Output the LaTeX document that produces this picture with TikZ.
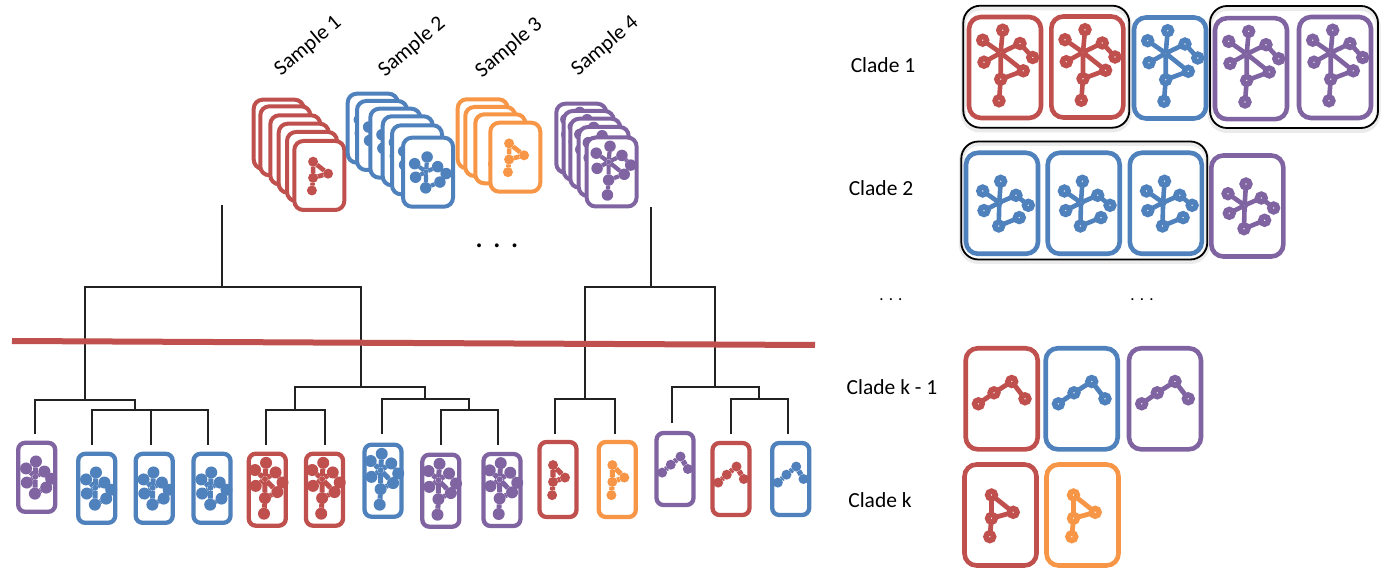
\documentclass[tikz,border=0pt]{standalone}
\usepackage{fontspec}
\setmainfont{Carlito}
\definecolor{cred}{HTML}{C0504D}
\definecolor{cblue}{HTML}{4F81BD}
\definecolor{cpurple}{HTML}{8064A2}
\definecolor{corange}{HTML}{F79646}
\definecolor{tree}{HTML}{222222}
\tikzset{
  x=1pt,y=-1pt,
  lab/.style={font=\fontsize{21.5}{24}\selectfont,inner sep=0pt,text=black},
  treeline/.style={draw=tree,line width=1.8pt},
  cutline/.style={draw=cred,line width=6pt},
  groupbox/.style={draw=black,line width=1.8pt,rounded corners=17pt,inner sep=0pt},
  groupshade/.style={draw=black!8,line width=5pt,rounded corners=17pt,inner sep=0pt},
  cardbase/.style={fill=white,inner sep=0pt,outer sep=0pt},
  biglook/.style={cardbase,line width=4.6pt,rounded corners=12pt,
    gn/.style={circle,draw=gcol,fill=white,line width=5.6pt,minimum size=7.6pt,inner sep=0pt,outer sep=0pt},
    gt/.style={circle,draw=gcol,fill=white,line width=5.6pt,minimum size=7.6pt,inner sep=0pt,outer sep=0pt},
    gh/.style={circle,draw=gcol,fill=white,line width=3pt,minimum size=4pt,inner sep=0pt,outer sep=0pt},
    ge/.style={draw=gcol,fill=none,line width=4.6pt},
    gl/.style={draw=gcol,fill=none,line width=4.8pt}},
  stacklook/.style={cardbase,line width=4pt,rounded corners=9pt,
    gn/.style={circle,fill=gcol,minimum size=11.5pt,inner sep=0pt,outer sep=0pt},
    gt/.style={circle,fill=gcol,minimum size=10pt,inner sep=0pt,outer sep=0pt},
    gh/.style={circle,fill=gcol,minimum size=5pt,inner sep=0pt,outer sep=0pt},
    ge/.style={draw=gcol,fill=none,line width=4.2pt},
    gl/.style={draw=gcol,fill=none,line width=4.6pt}},
  smalllook/.style={cardbase,line width=4.3pt,rounded corners=7pt,
    gn/.style={circle,fill=gcol,minimum size=12pt,inner sep=0pt,outer sep=0pt},
    gt/.style={circle,fill=gcol,minimum size=10pt,inner sep=0pt,outer sep=0pt},
    gh/.style={circle,fill=gcol,minimum size=6pt,inner sep=0pt,outer sep=0pt},
    ge/.style={draw=gcol,fill=none,line width=5pt},
    gl/.style={draw=gcol,fill=none,line width=5.2pt}},
  scalebiglook/.style={},
  scalestacklook/.style={xscale=.69,yscale=.69},
  scalesmalllook/.style={xscale=.55,yscale=.72},
}
\newcommand{\gfull}{%
  \node[gh] (h) at (-4.3,-14.7) {};
  \node[gn] (a) at (-2.3,-37.3) {};
  \node[gn] (b) at (-22.3,-27.3) {};
  \node[gn] (c) at (-21,-5.3) {};
  \node[gn] (d) at (15,-24) {};
  \node[gn] (e) at (27.7,-10) {};
  \node[gn] (f) at (18.3,3.3) {};
  \node[gn] (g) at (-4.3,11.7) {};
  \node[gn] (i) at (-6,33.3) {};
  \draw[ge] (h)--(a) (h)--(b) (h)--(c) (h)--(d) (d)--(e) (h)--(f) (f)--(g) (g)--(h) (g)--(i);
}
\newcommand{\gnofan}{%
  \node[gh] (h) at (-2.7,-0.7) {};
  \node[gn] (a) at (-1.3,-22) {};
  \node[gn] (b) at (-19.3,-12.3) {};
  \node[gn] (c) at (-18,7.3) {};
  \node[gn] (d) at (14,-8) {};
  \node[gn] (e) at (26.3,2) {};
  \node[gn] (f) at (17.3,14.3) {};
  \node[gn] (g) at (-3.3,22.7) {};
  \draw[ge] (h)--(a) (h)--(b) (h)--(c) (h)--(d) (d)--(e) (h)--(g) (g)--(f);
}
\newcommand{\gchain}{%
  \node[gt] (a) at (-23.3,5) {};
  \node[gt] (b) at (-7.7,-6) {};
  \node[gt] (c) at (10,-17.3) {};
  \node[gt] (d) at (23.3,0) {};
  \draw[gl] (a)--(b) (b)--(c) (c)--(d);
}
\newcommand{\gtri}{%
  \node[gt] (a) at (-9,-20) {};
  \node[gt] (b) at (12.7,-2.7) {};
  \node[gt] (c) at (-9,3.3) {};
  \node[gt] (d) at (-10.7,21.7) {};
  \draw[gl] (a)--(b) (b)--(c) (c)--(a) (c)--(d);
}
% name, x, y, w, h, colour, look, glyph
\newcommand{\mycard}[8]{%
  \colorlet{gcol}{#6}%
  \begin{scope}[#7]
    \node[#7,draw=#6,minimum width=#4,minimum height=#5] (#1) at (#2,#3) {};
    \begin{scope}[shift={(#2,#3)},name prefix=#1-,scale#7]
      \csname g#8\endcsname
    \end{scope}
  \end{scope}%
}
\newcommand{\bgc}[5]{\mycard{#1}{#2}{#3}{72pt}{101pt}{#4}{biglook}{#5}}
\newcommand{\stk}[5]{\mycard{#1}{#2}{#3}{50pt}{69pt}{#4}{stacklook}{#5}}
\newcommand{\sml}[6]{\mycard{#1}{#2}{#3}{37pt}{#4}{#5}{smalllook}{#6}}
\begin{document}
\begin{tikzpicture}
\useasboundingbox[fill=white] (0,0) rectangle (1382,569);
% stacks
\stk{ra}{278.7}{134.2}{cred}{tri}
\stk{rb}{285.3}{140.8}{cred}{tri}
\stk{rc}{295.3}{149.8}{cred}{tri}
\stk{rd}{303.7}{158.2}{cred}{tri}
\stk{re}{312}{166.5}{cred}{tri}
\stk{rf}{319.3}{175.5}{cred}{tri}
\stk{ba}{372.7}{128.2}{cblue}{nofan}
\stk{bb}{382}{135.5}{cblue}{nofan}
\stk{bc}{395.3}{143.2}{cblue}{nofan}
\stk{bd}{407.7}{150.8}{cblue}{nofan}
\stk{be}{417}{159.8}{cblue}{nofan}
\stk{bf}{428}{172.2}{cblue}{nofan}
\stk{oa}{482.7}{133.8}{corange}{tri}
\stk{ob}{490.3}{141.5}{corange}{tri}
\stk{oc}{500.3}{148.8}{corange}{tri}
\stk{od}{515.3}{157.2}{corange}{tri}
\stk{pa}{581.3}{138.2}{cpurple}{full}
\stk{pb}{588.7}{145.5}{cpurple}{full}
\stk{pc}{595.3}{153.2}{cpurple}{full}
\stk{pd}{603.7}{161.5}{cpurple}{full}
\stk{pe}{611.6}{172}{cpurple}{full}
% sample labels
\node[lab,rotate=40] (s1) at (308,46) {Sample 1};
\node[lab,rotate=40] (s2) at (412,47) {Sample 2};
\node[lab,rotate=40] (s3) at (509,48) {Sample 3};
\node[lab,rotate=40] (s4) at (605,46) {Sample 4};
\node[lab,font=\fontsize{32}{32}\selectfont] (dots) at (497,246) {. . .};
% tree junctions
\coordinate (rL) at (222,205); \coordinate (jL) at (222,287);
\coordinate (jA) at (85,400); \coordinate (jB) at (361,387);
\coordinate (jAb) at (135,410); \coordinate (j3) at (151,410);
\coordinate (jBa) at (295,410); \coordinate (jBb) at (425,399);
\coordinate (jBc) at (469,410);
\coordinate (rR) at (651,207); \coordinate (jR) at (651,287);
\coordinate (jC) at (585,399); \coordinate (jD) at (715,387);
\coordinate (jE) at (759,399);
\coordinate (e1) at (35,434); \coordinate (e2) at (92,445);
\coordinate (e3) at (151,445); \coordinate (e4) at (208,445);
\coordinate (e5) at (266,445); \coordinate (e6) at (325,445);
\coordinate (e7) at (382,434); \coordinate (e8) at (441,445);
\coordinate (e9) at (498,445); \coordinate (e10) at (555,434);
\coordinate (e11) at (614.7,434); \coordinate (e12) at (672,423);
\coordinate (e13) at (731,434); \coordinate (e14) at (788,434);
\draw[treeline] (rL)--(jL);
\draw[treeline] (jA) |- (jL) -| (jB);
\draw[treeline] (e1) |- (jA) -| (jAb);
\draw[treeline] (e2) |- (jAb) -| (e4);
\draw[treeline] (j3) -- (e3);
\draw[treeline] (jBa) |- (jB) -| (jBb);
\draw[treeline] (e5) |- (jBa) -| (e6);
\draw[treeline] (e7) |- (jBb) -| (jBc);
\draw[treeline] (e8) |- (jBc) -| (e9);
\draw[treeline] (rR)--(jR);
\draw[treeline] (jC) |- (jR) -| (jD);
\draw[treeline] (e10) |- (jC) -| (e11);
\draw[treeline] (e12) |- (jD) -| (jE);
\draw[treeline] (e13) |- (jE) -| (e14);
% cut line
\coordinate (cutA) at (12,341); \coordinate (cutB) at (815,345);
\draw[cutline] (cutA)--(cutB);
% leaves
\sml{l1}{36.7}{477.3}{69pt}{cpurple}{nofan}
\sml{l2}{96.7}{488.3}{69pt}{cblue}{nofan}
\sml{l3}{154.2}{488.3}{69pt}{cblue}{nofan}
\sml{l4}{212}{488.3}{69pt}{cblue}{nofan}
\sml{l5}{267.3}{489.7}{72pt}{cred}{full}
\sml{l6}{324.5}{489.7}{72pt}{cred}{full}
\sml{l7}{383}{480.7}{72pt}{cblue}{full}
\sml{l8}{440.8}{490.7}{72pt}{cpurple}{full}
\sml{l9}{502}{490}{72pt}{cpurple}{full}
\sml{l10}{558}{479.5}{75pt}{cred}{tri}
\sml{l11}{617.3}{479.5}{75pt}{corange}{tri}
\sml{l12}{675}{469}{72pt}{cpurple}{chain}
\sml{l13}{731}{479}{72pt}{cred}{chain}
\sml{l14}{790.7}{479}{72pt}{cblue}{chain}
% clade labels
\node[lab] (c1) at (883,65) {Clade 1};
\node[lab] (c2) at (881,188) {Clade 2};
\node[lab] (c3) at (892,387) {Clade k - 1};
\node[lab] (c4) at (880,500) {Clade k};
\node[lab,font=\fontsize{17}{17}\selectfont] (d2) at (891,300) {. . .};
\node[lab,font=\fontsize{17}{17}\selectfont] (d3) at (1142,300) {. . .};
% groups
\node[groupshade,minimum width=166pt,minimum height=122pt] (gs1) at (1046.3,69) {};
\node[groupshade,minimum width=168pt,minimum height=122pt] (gs2) at (1294,69.5) {};
\node[groupshade,minimum width=246pt,minimum height=118pt] (gs3) at (1084.3,202.5) {};
\node[groupbox,minimum width=166pt,minimum height=122pt] (g1) at (1046.3,66.7) {};
\node[groupbox,minimum width=168pt,minimum height=122pt] (g2) at (1294,67) {};
\node[groupbox,minimum width=246pt,minimum height=118pt] (g3) at (1084.3,200.5) {};
% clade cards
\bgc{a1}{1005}{67.5}{cred}{full}
\bgc{a2}{1087.3}{67}{cred}{full}
\bgc{a3}{1170}{68}{cblue}{full}
\bgc{a4}{1251}{68.7}{cpurple}{full}
\bgc{a5}{1335}{67.5}{cpurple}{full}
\bgc{b1}{1002}{203.3}{cblue}{nofan}
\bgc{b2}{1083.7}{203.3}{cblue}{nofan}
\bgc{b3}{1165.8}{203.3}{cblue}{nofan}
\bgc{b4}{1247.3}{206}{cpurple}{nofan}
\bgc{k1}{1001.7}{398.8}{cred}{chain}
\bgc{k2}{1081.7}{398.8}{cblue}{chain}
\bgc{k3}{1165}{398.8}{cpurple}{chain}
\bgc{m1}{1000.5}{515}{cred}{tri}
\bgc{m2}{1082.5}{515}{corange}{tri}
\end{tikzpicture}
\end{document}
